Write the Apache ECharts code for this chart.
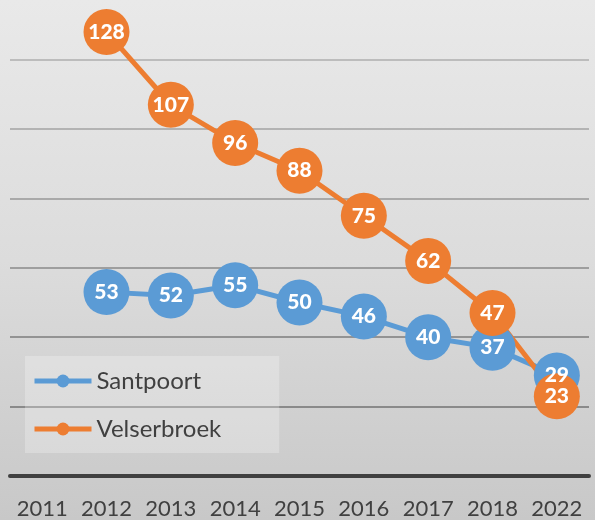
<!DOCTYPE html>
<html>
<head>
<meta charset="utf-8">
<script src="https://cdn.jsdelivr.net/npm/echarts@6/dist/echarts.min.js"></script>
<style>
  html, body { margin: 0; padding: 0; }
  #chart {
    width: 595px;
    height: 520px;
    background: linear-gradient(to bottom, #e9e9e9 0%, #dcdcdc 50%, #c8c8c8 100%);
  }
</style>
</head>
<body>
<div id="chart"></div>
<script>
// data
var years = ["2011", "2012", "2013", "2014", "2015", "2016", "2017", "2018", "2022"];
var santpoort = [null, 53, 52, 55, 50, 46, 40, 37, 29];
var velserbroek = [null, 128, 107, 96, 88, 75, 62, 47, 23];

var chart = echarts.init(document.getElementById("chart"));

var labelStyle = {
  show: true,
  position: "inside",
  color: "#fff",
  fontFamily: "Lato",
  fontWeight: 900,
  fontSize: 21
};

var option = {
  animation: false,
  grid: { left: 10, right: 6, top: 0, bottom: 43 },
  legend: {
    orient: "vertical",
    left: 25,
    top: 356,
    padding: [12, 58, 11, 7],
    backgroundColor: "rgba(255,255,255,0.25)",
    itemWidth: 57,
    itemHeight: 16,
    itemGap: 22,
    lineStyle: { width: 5 },
    textStyle: { fontFamily: "Lato", fontSize: 24, color: "#404040", lineHeight: 26 },
    data: ["Santpoort", "Velserbroek"]
  },
  xAxis: {
    type: "category",
    data: years,
    boundaryGap: true,
    axisLine: { lineStyle: { color: "#404040", width: 4 } },
    axisTick: { show: false },
    axisLabel: { color: "#404040", fontFamily: "Lato", fontSize: 22, margin: 22, interval: 0 }
  },
  yAxis: {
    type: "value",
    min: 0,
    max: 137.2,
    interval: 20,
    axisLabel: { show: false },
    axisLine: { show: false },
    axisTick: { show: false },
    splitLine: {
      lineStyle: {
        width: 2,
        color: ["#444", "#8a8a8a", "#939393", "#9e9e9e", "#a9a9a9", "#b3b3b3", "#bcbcbc", "rgba(0,0,0,0)"]
      }
    }
  },
  series: [
    {
      name: "Santpoort",
      type: "line",
      data: santpoort,
      symbol: "circle",
      symbolSize: 46,
      showAllSymbol: true,
      clip: false,
      color: "#5b9bd5",
      lineStyle: { width: 5 },
      label: labelStyle
    },
    {
      name: "Velserbroek",
      type: "line",
      data: velserbroek,
      symbol: "circle",
      symbolSize: 46,
      showAllSymbol: true,
      clip: false,
      color: "#ed7d31",
      lineStyle: { width: 5 },
      label: labelStyle
    }
  ]
};

chart.setOption(option);
</script>
</body>
</html>
